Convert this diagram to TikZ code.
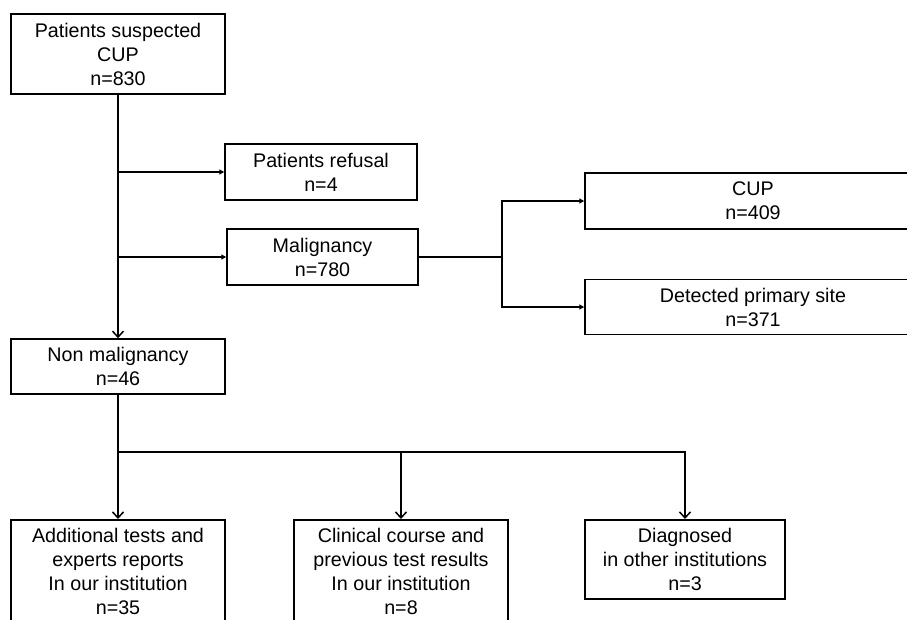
\documentclass[tikz,border=0pt]{standalone}
\usepackage{fontspec}
\setmainfont{Liberation Sans}
\usetikzlibrary{arrows.meta}
\tikzset{
  box/.style={draw, line width=1.5pt, align=center, inner xsep=0pt, inner ysep=8.3pt, font=\fontsize{19.7}{24}\selectfont},
  link/.style={line width=1.5pt},
  harr/.style={link, -{Triangle[length=5pt,width=5pt]}},
  varr/.style={link, -{Straight Barb[length=6pt,width=11pt]}}
}
\begin{document}
\begin{tikzpicture}[x=1pt,y=-1pt]
            \clip (0,0) rectangle (907,619);
            \fill[white] (0,0) rectangle (907,619);
            \node (top) at (118,54) [box, minimum width=214, minimum height=80] {Patients suspected\\CUP\\n=830};
            \node (refusal) at (321,172) [box, minimum width=192, minimum height=56] {Patients refusal\\n=4};
            \node (malig) at (322.5,257) [box, minimum width=191, minimum height=56] {Malignancy\\n=780};
            \node (cup) at (753,201) [box, minimum width=336, minimum height=56] {CUP\\n=409};
            \node (detect) at (753,307) [box, minimum width=336, minimum height=54] {Detected primary site\\n=371};
            \node (nonmal) at (118,366.5) [box, minimum width=214, minimum height=55] {Non malignancy\\n=46};
            \node (add) at (118,519) [box, anchor=north, minimum width=214] {Additional tests and\\experts reports\\In our institution\\n=35};
            \node (clin) at (401,519) [box, anchor=north, minimum width=214] {Clinical course and\\previous test results\\In our institution\\n=8};
            \node (diag) at (685,519) [box, anchor=north, minimum width=200] {Diagnosed\\in other institutions\\n=3};
            \draw[varr] (top) -- (nonmal);
            \draw[harr] (top.south |- refusal) -- (refusal);
            \draw[harr] (top.south |- malig) -- (malig);
            \draw[link] (malig.east) -- ++(83,0) coordinate (fork);
            \draw[harr] (fork) |- (cup);
            \draw[harr] (fork) |- (detect);
            \draw[link] (nonmal.south) -- ++(0,57) coordinate (split);
            \draw[varr] (split) -- (add);
            \draw[varr] (split) -| (clin);
            \draw[varr] (split) -| (diag);
        \end{tikzpicture}
\end{document}
